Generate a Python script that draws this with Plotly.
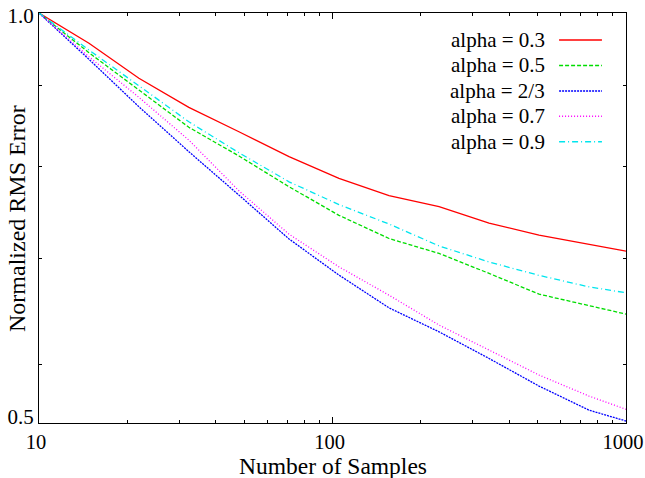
import plotly.graph_objects as go
import math

# samples (x) and normalized rms error for each alpha
samples = [10, 14.8, 21.9, 32.4, 48.0, 71.1, 105.2, 155.8, 230.7, 341.5, 505.4, 747.9, 1000]

err_03 = [1.0, 0.9569, 0.9095, 0.8718, 0.8414, 0.8115, 0.7864, 0.7668, 0.7546, 0.7368, 0.7240, 0.7146, 0.7074]
err_05 = [1.0, 0.9439, 0.8941, 0.8469, 0.8123, 0.7768, 0.7452, 0.7205, 0.7050, 0.6849, 0.6645, 0.6532, 0.6455]
err_23 = [1.0, 0.9349, 0.8726, 0.8174, 0.7674, 0.7200, 0.6832, 0.6514, 0.6291, 0.6052, 0.5814, 0.5614, 0.5526]
err_07 = [1.0, 0.9384, 0.8846, 0.8313, 0.7722, 0.7250, 0.6914, 0.6635, 0.6353, 0.6126, 0.5908, 0.5730, 0.5621]
err_09 = [1.0, 0.9476, 0.8996, 0.8537, 0.8162, 0.7824, 0.7569, 0.7358, 0.7128, 0.6963, 0.6829, 0.6716, 0.6658]

names = ["alpha = 0.3", "alpha = 0.5", "alpha = 2/3", "alpha = 0.7", "alpha = 0.9"]
series = [err_03, err_05, err_23, err_07, err_09]
colors = ["#ff0000", "#00dd00", "#0000ff", "#ff00ff", "#00e5ee"]
dashes = ["solid", "4px,2px", "2px,1px", "1px,2px", "6px,3px,1px,3px"]

fnt = "Liberation Serif, Times New Roman, serif"

fig = go.Figure()
for n, s, c, d in zip(names, series, colors, dashes):
    fig.add_trace(go.Scatter(x=samples, y=s, mode="lines", name=n,
                             line=dict(color=c, width=1.3, dash=d),
                             showlegend=False))

# gnuplot style key: text on the left, line sample on the right
row0 = 0.934
step = 0.062
for i, (n, c, d) in enumerate(zip(names, colors, dashes)):
    yy = row0 - i * step
    fig.add_annotation(x=0.866, y=yy, xref="paper", yref="paper", text=n,
                       showarrow=False, xanchor="right", yanchor="middle",
                       font=dict(family=fnt, size=21, color="black"))
    fig.add_shape(type="line", xref="paper", yref="paper",
                  x0=0.886, x1=0.959, y0=yy, y1=yy,
                  line=dict(color=c, width=1.5, dash=d))

# axis titles
fig.add_annotation(x=0.5, y=-0.104, xref="paper", yref="paper",
                   text="Number of Samples", showarrow=False,
                   xanchor="center", yanchor="middle",
                   font=dict(family=fnt, size=23.5, color="black"))
fig.add_annotation(x=-0.0375, y=0.5, xref="paper", yref="paper",
                   text="Normalized RMS Error", showarrow=False, textangle=-90,
                   xanchor="center", yanchor="middle",
                   font=dict(family=fnt, size=24, color="black"))

fig.update_layout(
    width=645, height=478,
    margin=dict(l=39, r=19, t=13, b=55),
    paper_bgcolor="white", plot_bgcolor="white",
    font=dict(family=fnt, size=21, color="black"),
)
fig.update_xaxes(type="log", range=[1, 3], automargin=False,
                 tickvals=[10, 100, 1000], ticktext=["10", "100", "1000"],
                 ticklabeloverflow="allow", ticklabelshift=-3,
                 tickfont=dict(family=fnt, size=20.5),
                 ticks="inside", ticklen=6, tickwidth=1, tickcolor="black",
                 minor=dict(tickvals=[20, 30, 40, 50, 60, 70, 80, 90,
                                      200, 300, 400, 500, 600, 700, 800, 900],
                            ticks="inside", ticklen=3, tickcolor="black"),
                 showline=True, linecolor="black", linewidth=1.3, mirror="allticks",
                 showgrid=False, zeroline=False)
# end labels sit a little inside the frame, like the original
fig.update_yaxes(type="log", range=[math.log10(0.551), 0], automargin=False,
                 tickvals=[0.5563, 0.9967], ticktext=["0.5", "1.0"],
                 ticklabeloverflow="allow",
                 ticks="inside", ticklen=0, tickcolor="black",
                 minor=dict(tickvals=[0.6, 0.7, 0.8, 0.9],
                            ticks="inside", ticklen=3, tickcolor="black"),
                 showline=True, linecolor="black", linewidth=1.3, mirror="allticks",
                 showgrid=False, zeroline=False)

# drop the default body margin so the figure sits at the window's corner
fig.write_html("out.html", config={"displayModeBar": False},
               post_script="document.body.style.margin='0';")
